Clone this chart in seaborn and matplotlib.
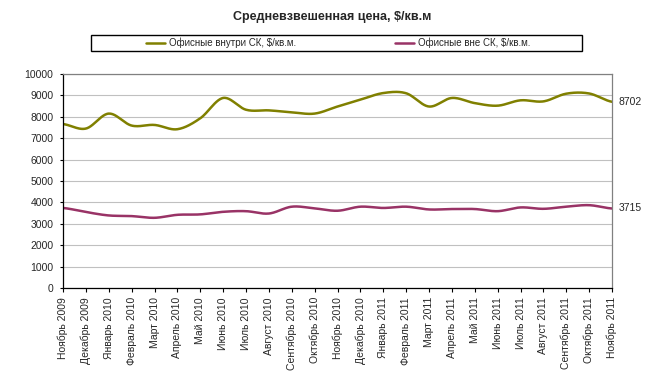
import numpy as np
import pandas as pd
import matplotlib
matplotlib.use("Agg")
import matplotlib.pyplot as plt
import seaborn as sns
from matplotlib.patches import Rectangle
from matplotlib.lines import Line2D

# ---- data ----
title = "Средневзвешенная цена, $/кв.м"
series_names = ["Офисные внутри СК, $/кв.м.", "Офисные вне СК, $/кв.м."]
months = ["Ноябрь 2009", "Декабрь 2009", "Январь 2010", "Февраль 2010", "Март 2010",
          "Апрель 2010", "Май 2010", "Июнь 2010", "Июль 2010", "Август 2010",
          "Сентябрь 2010", "Октябрь 2010", "Ноябрь 2010", "Декабрь 2010", "Январь 2011",
          "Февраль 2011", "Март 2011", "Апрель 2011", "Май 2011", "Июнь 2011",
          "Июль 2011", "Август 2011", "Сентябрь 2011", "Октябрь 2011", "Ноябрь 2011"]
inside_sk = [7660, 7450, 8150, 7590, 7620, 7420, 7930, 8880, 8330, 8300,
             8210, 8150, 8480, 8800, 9110, 9100, 8480, 8880, 8640, 8520,
             8770, 8720, 9080, 9090, 8702]
outside_sk = [3740, 3550, 3390, 3360, 3280, 3420, 3440, 3560, 3590, 3480,
              3800, 3720, 3610, 3800, 3740, 3800, 3670, 3690, 3690, 3590,
              3765, 3700, 3800, 3870, 3715]
colors = ["#808000", "#993366"]


def smooth(vals, n=24):
    """Catmull-Rom curve through the data points (Excel-like smoothed line)."""
    y = np.asarray(vals, float)
    p = np.concatenate([[y[0]], y, [y[-1]]])
    xs, ys = [], []
    t = np.linspace(0, 1, n, endpoint=False)
    for i in range(len(y) - 1):
        P0, P1, P2, P3 = p[i], p[i + 1], p[i + 2], p[i + 3]
        seg = 0.5 * (2 * P1 + (-P0 + P2) * t + (2 * P0 - 5 * P1 + 4 * P2 - P3) * t ** 2
                     + (-P0 + 3 * P1 - 3 * P2 + P3) * t ** 3)
        xs.extend(i + t)
        ys.extend(seg)
    xs.append(len(y) - 1)
    ys.append(y[-1])
    return np.array(xs), np.array(ys)


sns.set_theme(style="white")
plt.rcParams["font.family"] = ["Liberation Sans", "DejaVu Sans"]

fig = plt.figure(figsize=(6.54, 3.75), dpi=100)
ax = fig.add_axes([63 / 654, 1 - 288 / 375, 549 / 654, 214 / 375])

frames = []
for name, vals in zip(series_names, [inside_sk, outside_sk]):
    xs, ys = smooth(vals)
    frames.append(pd.DataFrame({"x": xs, "y": ys, "series": name}))
df = pd.concat(frames, ignore_index=True)

sns.lineplot(data=df, x="x", y="y", hue="series", palette=colors,
             hue_order=series_names, sort=False, estimator=None,
             linewidth=1.8, ax=ax, legend=False)

ax.set_xlim(0, len(months) - 1)
ax.set_ylim(0, 10000)
ax.set_yticks(np.arange(0, 10001, 1000))
ax.set_xticks(np.arange(len(months)))
ax.set_xticklabels(months, rotation=90, fontsize=7.5)
ax.tick_params(axis="y", labelsize=7.5, length=2.5, width=0.8, pad=4.5, color="black", left=True)
ax.tick_params(axis="x", length=3, width=0.8, pad=3.5, color="black", bottom=True)
ax.set_xlabel("")
ax.set_ylabel("")
ax.grid(axis="y", color="#c0c0c0", linewidth=0.8)
ax.grid(axis="x", visible=False)
ax.set_axisbelow(True)
for s in ["left", "bottom"]:
    ax.spines[s].set_color("black")
    ax.spines[s].set_linewidth(0.9)
for s in ["top", "right"]:
    ax.spines[s].set_color("#808080")
    ax.spines[s].set_linewidth(0.9)

# end labels
for vals in [inside_sk, outside_sk]:
    ax.annotate(f"{vals[-1]}", xy=(len(vals) - 1, vals[-1]), xytext=(5, 0),
                textcoords="offset points", ha="left", va="center", fontsize=7.5,
                annotation_clip=False)

fig.text(332.5 / 654, 1 - 17 / 375, title, ha="center", va="center",
         fontsize=9.0, fontweight="bold")

# legend box
fig.patches.append(Rectangle((91 / 654, 1 - 51 / 375), 491 / 654, 16 / 375,
                             transform=fig.transFigure, fill=False,
                             edgecolor="black", linewidth=1.0))
handles = [Line2D([], [], color=c, lw=1.8) for c in colors]
fig.legend(handles, series_names, loc="center", ncol=2,
           bbox_to_anchor=(338 / 654, 1 - 43 / 375), frameon=False,
           fontsize=7.0, handlelength=2.0, handletextpad=0.36, columnspacing=10.2,
           borderpad=0.0)

fig.savefig("out.png", dpi=100, facecolor="white")
